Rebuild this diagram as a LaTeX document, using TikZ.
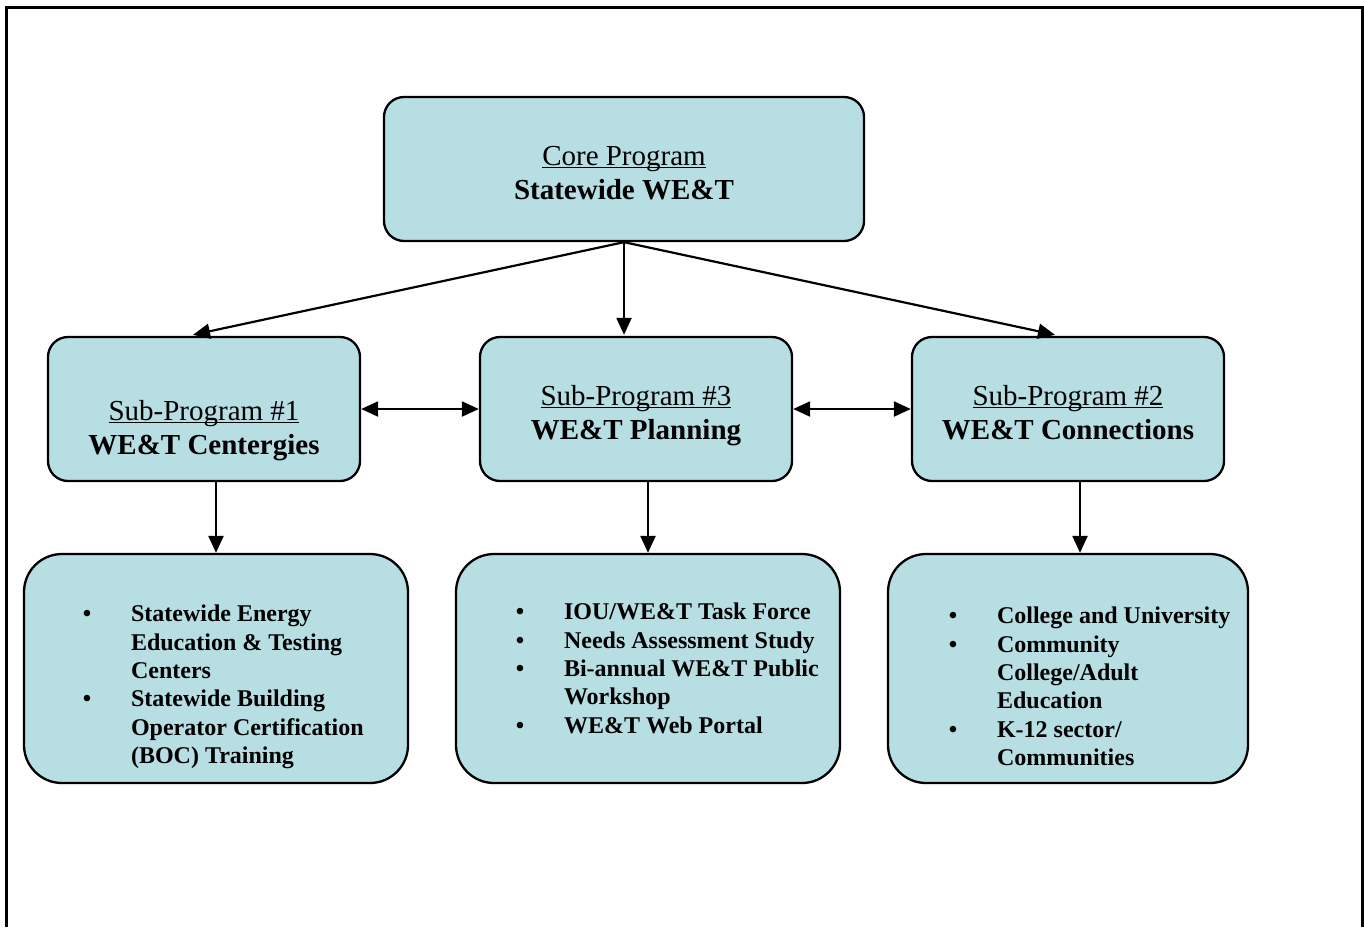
\documentclass[tikz,border=0pt]{standalone}
\usepackage{fontspec}
\setmainfont{Liberation Serif}
\usetikzlibrary{arrows.meta,calc}
\definecolor{boxfill}{RGB}{183,222,226}
\newcommand{\bul}{\makebox[0pt]{\textbullet}\hspace{44pt}}
\newcommand{\ind}{\hspace{44pt}}
\newcommand{\ulin}[1]{\setbox0\hbox{#1}\rlap{\rule[-3pt]{\wd0}{1.5pt}}\box0}
\begin{document}
\begin{tikzpicture}[x=1pt,y=-1pt,
  box/.style={draw=black,line width=2.3pt,fill=boxfill,rounded corners=20pt,inner sep=0pt},
  listbox/.style={box,rounded corners=38pt,minimum height=229pt},
  headtxt/.style={anchor=base,inner sep=0pt,font=\fontsize{29}{34}\selectfont},
  listtxt/.style={anchor=base west,inner sep=0pt,font=\fontsize{24}{28.3}\selectfont\bfseries},
  conn/.style={line width=2.2pt,-{Triangle[length=17pt,width=15pt]}},
  dconn/.style={line width=2.2pt,{Triangle[length=17pt,width=15pt]}-{Triangle[length=17pt,width=15pt]}},
  frame/.style={line width=3pt}]
\useasboundingbox (0,0) rectangle (1364,927);
\draw[frame] (6,927) -- (6,7) -- (1362,7) -- (1362,927);

% boxes
\node[box,minimum width=480pt,minimum height=144pt] (core) at (624,169) {};
\node[box,minimum width=312pt,minimum height=144pt] (s1) at (204,409) {};
\node[box,minimum width=312pt,minimum height=144pt] (s3) at (636,409) {};
\node[box,minimum width=312pt,minimum height=144pt] (s2) at (1068,409) {};
\node[listbox,minimum width=384pt] (b1) at (216,668.5) {};
\node[listbox,minimum width=384pt] (b2) at (648,668.5) {};
\node[listbox,minimum width=360pt] (b3) at (1068,668.5) {};

% header texts
\node[headtxt] (coret) at ($(core.center)+(0,-4)$) {\begin{tabular}[t]{@{}c@{}}\ulin{Core Program}\\\textbf{Statewide WE\&T}\end{tabular}};
\node[headtxt] (s1t) at ($(s1.center)+(0,11)$) {\begin{tabular}[t]{@{}c@{}}\ulin{Sub-Program \#1}\\\textbf{WE\&T Centergies}\end{tabular}};
\node[headtxt] (s3t) at ($(s3.center)+(0,-4)$) {\begin{tabular}[t]{@{}c@{}}\ulin{Sub-Program \#3}\\\textbf{WE\&T Planning}\end{tabular}};
\node[headtxt] (s2t) at ($(s2.center)+(0,-4)$) {\begin{tabular}[t]{@{}c@{}}\ulin{Sub-Program \#2}\\\textbf{WE\&T Connections}\end{tabular}};

% list texts
\node[listtxt] (b1t) at ($(b1.north west)+(64,69)$) {\begin{tabular}[t]{@{}l@{}}
\bul Statewide Energy\\
\ind Education \& Testing\\
\ind Centers\\
\bul Statewide Building\\
\ind Operator Certification\\
\ind (BOC) Training\end{tabular}};
\node[listtxt] (b2t) at ($(b2.north west)+(65,67)$) {\begin{tabular}[t]{@{}l@{}}
\bul IOU/WE\&T Task Force\\
\bul Needs Assessment Study\\
\bul Bi-annual WE\&T Public\\
\ind Workshop\\
\bul WE\&T Web Portal\end{tabular}};
\node[listtxt] (b3t) at ($(b3.north west)+(66,71)$) {\begin{tabular}[t]{@{}l@{}}
\bul College and University\\
\bul Community\\
\ind College/Adult\\
\ind Education\\
\bul K-12 sector/\\
\ind Communities\end{tabular}};

% connectors
\coordinate (t1) at ($(s1.north)+(-11,-1)$);
\coordinate (t2) at ($(s2.north)+(-13,-1)$);
\coordinate (t3) at ($(core.south |- s3.north)+(0,-1)$);
\draw[conn] (core.south) -- (t1);
\draw[conn] (core.south) -- (t3);
\draw[conn] (core.south) -- (t2);
\draw[dconn] (s1.east) -- (s3.west);
\draw[dconn] (s3.east) -- (s2.west);
\draw[conn] (b1.north |- s1.south) -- (b1.north);
\draw[conn] (b2.north |- s3.south) -- (b2.north);
\coordinate (b3top) at ($(b3.north)+(12,0)$);
\draw[conn] (b3top |- s2.south) -- (b3top);
\end{tikzpicture}
\end{document}
